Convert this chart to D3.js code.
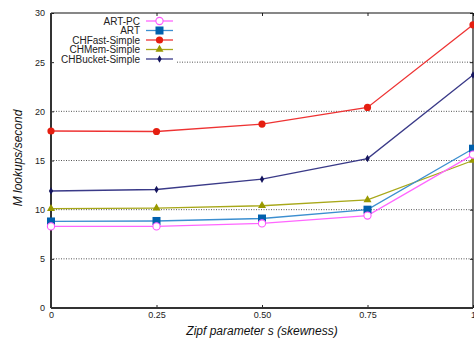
<!DOCTYPE html>
<html><head><meta charset="utf-8">
<script src="https://cdn.jsdelivr.net/npm/d3@7"></script>
<style>body{margin:0;background:#fff}svg{display:block}text{font-family:"Liberation Sans",Arial,sans-serif}</style>
</head><body><svg id="c" width="474" height="339"></svg>
<script>
const xValues = [0, 0.25, 0.5, 0.75, 1];
const xTickLabels = ["0", "0.25", "0.50", "0.75", "1"];
const yTicks = [0, 5, 10, 15, 20, 25, 30];
const seriesNames = ["ART-PC", "ART", "CHFast-Simple", "CHMem-Simple", "CHBucket-Simple"];
const artPC = [8.3, 8.3, 8.6, 9.4, 15.6];
const art = [8.8, 8.85, 9.1, 10.0, 16.2];
const chFast = [18.0, 17.95, 18.7, 20.4, 28.8];
const chMem = [10.1, 10.15, 10.4, 11.0, 15.0];
const chBucket = [11.9, 12.05, 13.1, 15.2, 23.7];

const series = [
  {name: seriesNames[0], values: artPC, line: "#ff66ff", mark: "#ff55ff", shape: "opencircle"},
  {name: seriesNames[1], values: art, line: "#3c8fd0", mark: "#0060ad", shape: "square"},
  {name: seriesNames[2], values: chFast, line: "#ee3333", mark: "#e51e10", shape: "circle"},
  {name: seriesNames[3], values: chMem, line: "#a8a81a", mark: "#999900", shape: "triangle"},
  {name: seriesNames[4], values: chBucket, line: "#3a3a88", mark: "#15155e", shape: "diamond"}
];

const svg = d3.select("#c");
const L = 51, R = 473, T = 13, B = 308;
const x = d3.scaleLinear().domain([0, 1]).range([L, R]);
const y = d3.scaleLinear().domain([0, 30]).range([B, T]);

// gridlines
const legendRight = 177;
svg.append("g").selectAll("line").data(yTicks.filter(d => d > 0 && d < 30)).join("line")
  .attr("x1", d => d === 25 ? legendRight : L).attr("x2", R)
  .attr("y1", d => y(d)).attr("y2", d => y(d))
  .attr("stroke", "#555").attr("stroke-width", 1).attr("stroke-dasharray", "1,1.5");

// axes
const yAxis = d3.axisLeft(y).tickValues(yTicks).tickSize(-3).tickPadding(6).tickFormat(d3.format("d"));
const gy = svg.append("g").attr("transform", `translate(${L},0)`).call(yAxis);
gy.select(".domain").remove();
gy.selectAll("text").attr("font-size", 9).attr("fill", "#222");
gy.selectAll("line").attr("stroke", "#222");
const yAxisR = d3.axisRight(y).tickValues(yTicks).tickSize(-3).tickFormat("");
const gyr = svg.append("g").attr("transform", `translate(${R},0)`).call(yAxisR);
gyr.select(".domain").remove();
gyr.selectAll("line").attr("stroke", "#222");

const xAxis = d3.axisBottom(x).tickValues(xValues).tickSize(-3).tickPadding(4).tickFormat((d, i) => xTickLabels[i]);
const gx = svg.append("g").attr("transform", `translate(0,${B})`).call(xAxis);
gx.select(".domain").remove();
gx.selectAll("text").attr("font-size", 9).attr("fill", "#222");
gx.selectAll("line").attr("stroke", "#222");
const xAxisT = d3.axisTop(x).tickValues(xValues).tickSize(-3).tickFormat("");
const gxt = svg.append("g").attr("transform", `translate(0,${T})`).call(xAxisT);
gxt.select(".domain").remove();
gxt.selectAll("line").attr("stroke", "#222");

// frame
svg.append("line").attr("x1", L).attr("x2", R).attr("y1", T).attr("y2", T).attr("stroke", "#111").attr("stroke-width", 1.2);
svg.append("line").attr("x1", R).attr("x2", R).attr("y1", T).attr("y2", B).attr("stroke", "#111").attr("stroke-width", 1.2);
svg.append("line").attr("x1", L).attr("x2", R).attr("y1", B).attr("y2", B).attr("stroke", "#333").attr("stroke-width", 2);
svg.append("line").attr("x1", L).attr("x2", L).attr("y1", T).attr("y2", B).attr("stroke", "#333").attr("stroke-width", 2);

function drawMarker(g, shape, color, cx, cy) {
  if (shape === "opencircle") {
    g.append("circle").attr("cx", cx).attr("cy", cy).attr("r", 3.6).attr("fill", "#fff").attr("stroke", color).attr("stroke-width", 1.1);
  } else if (shape === "square") {
    g.append("rect").attr("x", cx - 4).attr("y", cy - 4).attr("width", 8).attr("height", 8).attr("fill", color);
  } else if (shape === "circle") {
    g.append("circle").attr("cx", cx).attr("cy", cy).attr("r", 3.6).attr("fill", color);
  } else if (shape === "triangle") {
    g.append("path").attr("d", d3.symbol(d3.symbolTriangle, 28)()).attr("transform", `translate(${cx},${cy})`).attr("fill", color);
  } else if (shape === "diamond") {
    g.append("path").attr("d", d3.symbol(d3.symbolDiamond, 16)()).attr("transform", `translate(${cx},${cy})`).attr("fill", color);
  }
}

const line = d3.line().x((d, i) => x(xValues[i])).y(d => y(d));
const plot = svg.append("g");
[4, 3, 2, 1, 0].forEach(k => {
  const s = series[k];
  plot.append("path").datum(s.values).attr("d", line).attr("fill", "none").attr("stroke", s.line).attr("stroke-width", 1.3);
});
[4, 3, 2, 1, 0].forEach(k => {
  const s = series[k];
  s.values.forEach((v, i) => drawMarker(plot, s.shape, s.mark, x(xValues[i]), y(v)));
});

// legend
const leg = svg.append("g");
series.forEach((s, i) => {
  const ly = 21 + i * 9.5;
  leg.append("text").attr("x", 140).attr("y", ly).attr("dy", "0.35em").attr("text-anchor", "end")
    .attr("font-size", 10).attr("fill", "#222").text(s.name);
  leg.append("line").attr("x1", 146).attr("x2", 173).attr("y1", ly).attr("y2", ly).attr("stroke", s.line).attr("stroke-width", 1.3);
  drawMarker(leg, s.shape, s.mark, 159.5, ly);
});

// axis titles
svg.append("text").attr("x", 262).attr("y", 335).attr("text-anchor", "middle")
  .attr("font-size", 12).attr("font-style", "italic").attr("fill", "#111").text("Zipf parameter s (skewness)");
svg.append("text").attr("transform", "translate(22,158) rotate(-90)").attr("text-anchor", "middle")
  .attr("font-size", 12).attr("font-style", "italic").attr("fill", "#111").text("M lookups/second");
</script></body></html>
